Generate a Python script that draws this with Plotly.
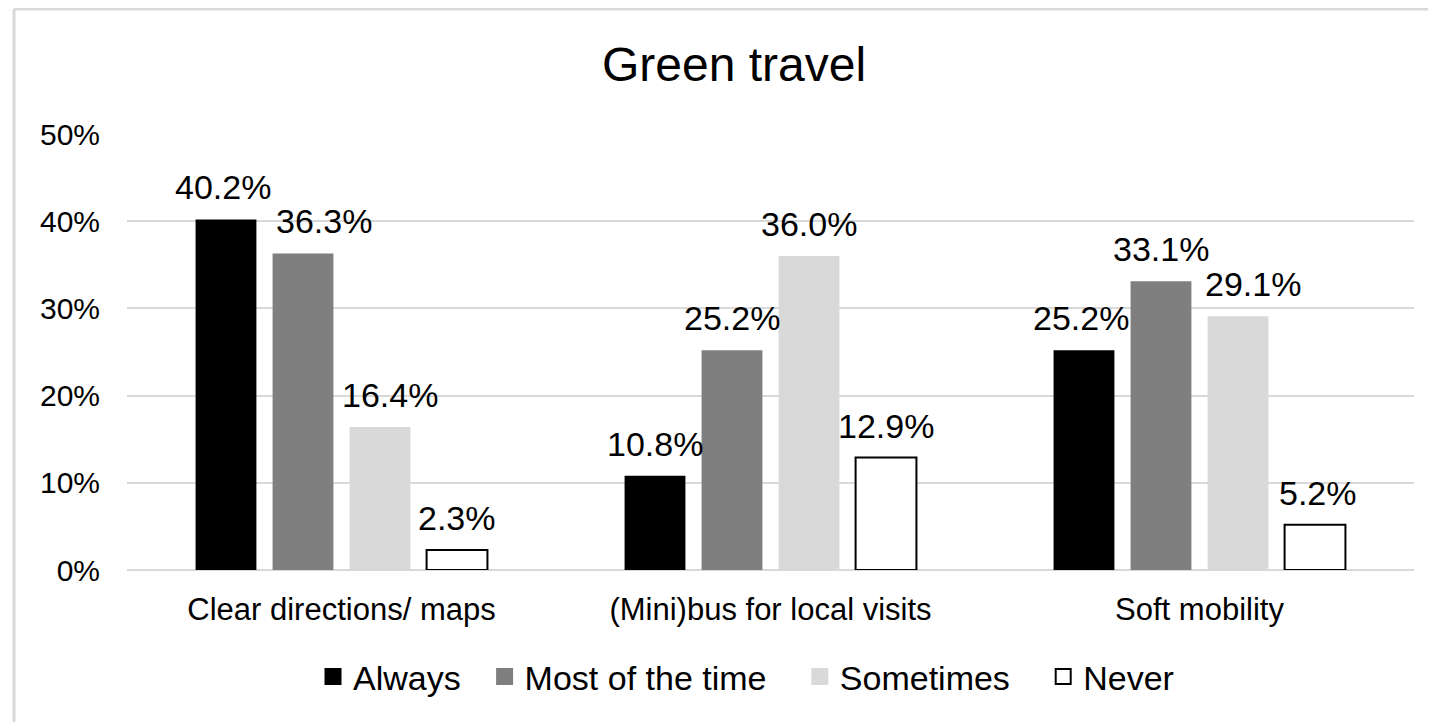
import plotly.graph_objects as go

categories = ["Clear directions/ maps", "(Mini)bus for local visits", "Soft mobility"]
series_names = ["Always", "Most of the time", "Sometimes", "Never"]
always = [40.2, 10.8, 25.2]
most_of_the_time = [36.3, 25.2, 33.1]
sometimes = [16.4, 36.0, 29.1]
never = [2.3, 12.9, 5.2]
y_ticks = [0, 10, 20, 30, 40, 50]
y_tick_labels = ["0%", "10%", "20%", "30%", "40%", "50%"]

series_values = [always, most_of_the_time, sometimes, never]
fills = ["#000000", "#7f7f7f", "#d9d9d9", "#ffffff"]
outlines = ["#000000", "#7f7f7f", "#d9d9d9", "#000000"]
outline_w = [0, 0, 0, 2]
# pixel offset of each series within a category group
label_xshift = [-115.5, -38.5, 38.5, 115.5]
# small manual nudges of individual labels (series x category), px
label_nudge = [[-3, 0, -3], [21, 0, 0], [10, 0, 15], [0, 0, 3]]
# trailing spacing after each legend entry
legend_pad = [2, 3, 3, 0]

FONT = "Liberation Sans, Arial, sans-serif"
NB = "\u00a0"

# page places the figure 8px in from the top-left corner
W, H = 1436, 722
L, R, T, B = 119, 30, 126, 160
PW, PH = W - L - R, H - T - B

fig = go.Figure()
annotations = []
for i, (name, vals, fc, lc, lw, xs) in enumerate(zip(series_names, series_values, fills, outlines, outline_w, label_xshift)):
    fig.add_trace(go.Bar(
        x=categories, y=vals, name=name,
        marker=dict(color=fc, line=dict(color=lc, width=lw)),
        showlegend=False,
    ))
    fig.add_trace(go.Scatter(
        x=[None], y=[None], mode="markers",
        name=name + NB * legend_pad[i],
        marker=dict(symbol="square", size=15, color=fc, line=dict(color=lc if lw else fc, width=2)),
        showlegend=True,
    ))
    for j, (c, v) in enumerate(zip(categories, vals)):
        annotations.append(dict(
            x=c, y=v, xref="x", yref="y", text=f"{v:.1f}%", showarrow=False,
            xanchor="center", yanchor="bottom", xshift=xs + label_nudge[i][j], yshift=11,
            font=dict(size=34, color="#000000", family=FONT),
        ))

fig.update_layout(
    width=W, height=H,
    paper_bgcolor="white", plot_bgcolor="white",
    margin=dict(l=L, r=R, t=T, b=B),
    font=dict(family=FONT, color="#000000"),
    title=dict(text="Green travel", x=726 / W, xanchor="center", y=1 - 56 / H, yanchor="middle",
               font=dict(size=48, family=FONT, color="#000000")),
    barmode="group", bargap=0.282, bargroupgap=0.21,
    legend=dict(orientation="h", x=(305 - L) / PW, xanchor="left", y=-0.245, yanchor="middle",
                font=dict(size=34, family=FONT, color="#000000"),
                itemwidth=30, tracegroupgap=0),
    xaxis=dict(showgrid=False, showline=False, ticks="", tickfont=dict(size=31, family=FONT),
               ticklabelstandoff=18),
    yaxis=dict(range=[0, 50], tickvals=y_ticks, ticktext=y_tick_labels,
               showgrid=True, gridcolor="#d9d9d9", gridwidth=2,
               zeroline=True, zerolinecolor="#d9d9d9", zerolinewidth=2,
               showline=False, ticks="", tickfont=dict(size=30, family=FONT),
               ticklabelstandoff=26),
    annotations=annotations,
    shapes=[
        dict(type="line", xref="paper", yref="paper", x0=(6 - L) / PW, x1=(6 - L) / PW,
             y0=(PH + T - 1) / PH, y1=-(B + 10) / PH, line=dict(color="#d9d9d9", width=3)),
        dict(type="line", xref="paper", yref="paper", x0=(6 - L) / PW, x1=(W + 10 - L) / PW,
             y0=(PH + T - 1) / PH, y1=(PH + T - 1) / PH, line=dict(color="#d9d9d9", width=3)),
    ],
)

fig.write_html("out.html")
